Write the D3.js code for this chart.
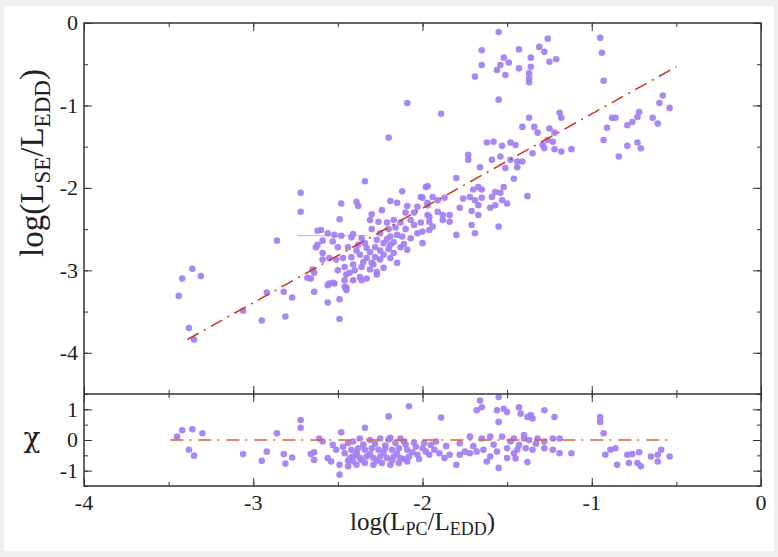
<html lang='en'>
<head>
<meta charset='UTF-8' />
<script src='https://d3js.org/d3.v7.min.js'></script>
<style>
  body { margin: 0; background: #f0f0f0; }
</style>
</head>
<body>
<div id='chart'></div>
<script>
// top panel: log(L_PC/L_EDD) vs log(L_SE/L_EDD)
const topX = [
  -3.44, -3.42, -3.36, -3.31, -3.38, -3.35, -2.86, -2.62, -2.64, -2.66, -2.82, -2.92, -2.77, -2.64,
  -3.06, -2.95, -2.81, -2.56, -2.55, -2.53, -2.49, -2.49, -2.46, -2.45, -2.72, -2.72, -2.20, -2.34,
  -2.48, -2.39, -2.38, -2.49, -1.97, -2.12, -2.30, -2.24, -2.19, -2.15, -2.09, -2.01, -1.94, -1.97,
  -2.60, -2.56, -2.52, -2.41, -2.36, -2.31, -2.26, -2.21, -2.17, -2.13, -2.07, -2.01, -1.96, -1.91,
  -2.59, -2.63, -2.53, -2.50, -2.44, -2.38, -2.33, -2.28, -2.23, -2.19, -2.15, -2.12, -2.07, -2.03,
  -2.00, -1.96, -2.19, -2.13, -2.09, -2.17, -2.23, -2.28, -2.33, -2.37, -2.42, -2.47, -2.51, -2.55,
  -2.59, -2.65, -2.68, -2.46, -2.41, -2.36, -2.30, -2.25, -2.19, -2.15, -2.43, -2.37, -2.31, -2.27,
  -2.23, -2.46, -2.41, -2.36, -2.56, -2.52, -2.45, -2.27, -2.59, -2.62,
  -1.55, -1.89, -1.19, -1.18, -1.37, -1.41, -1.34, -1.32, -1.25, -1.22, -1.26, -1.23, -1.29, -1.28,
  -1.22, -1.18, -1.12, -1.35, -1.62, -1.58, -1.53, -1.48, -1.45, -1.73, -1.73, -1.59, -1.54, -1.48,
  -1.44, -1.41, -1.51, -1.44, -1.66, -1.80, -1.46, -1.98, -1.67, -1.65, -1.70, -1.52, -1.57, -1.72,
  -1.76, -1.69, -1.65, -1.54, -1.59, -1.53, -1.57, -1.60, -1.67, -1.50, -1.38, -1.71, -1.67, -1.78,
  -1.88, -1.84, -1.88, -1.84, -1.97, -1.96, -2.00, -1.94, -1.71, -1.80, -1.55, -1.69, -1.91, -1.87,
  -2.00, -1.97, -2.09, -1.55,
  -1.65, -1.43, -1.26, -1.31, -1.28, -1.21, -1.25, -1.52, -1.49, -1.54, -1.56, -1.65, -1.43, -1.36,
  -1.36, -1.37, -1.37, -1.37, -1.51, -1.69, -0.95, -0.94, -0.93,
  -0.58, -0.60, -0.54, -0.72, -0.73, -0.76, -0.79, -0.64, -0.61, -0.88, -0.86, -0.91, -0.93, -0.79,
  -0.73, -0.71, -0.84,
  -2.30, -2.25, -2.20, -2.16, -2.10, -2.05, -2.27, -2.21, -2.17, -2.11, -2.34, -2.39, -2.31, -2.25,
  -2.20, -2.35, -2.40, -2.45, -2.50, -2.33, -2.29, -2.05, -2.03, -2.10, -2.42, -2.48
];
const topY = [
  -3.31, -3.10, -2.98, -3.07, -3.70, -3.84, -2.64, -2.69, -3.03, -3.10, -3.26, -3.27, -3.33, -3.26,
  -3.49, -3.61, -3.56, -3.39, -3.16, -3.15, -3.35, -3.59, -3.20, -3.24, -2.06, -2.29, -1.39, -1.92,
  -2.19, -2.17, -2.22, -2.38, -1.98, -2.04, -2.32, -2.27, -2.16, -2.18, -2.22, -2.11, -2.11, -2.18,
  -2.51, -2.55, -2.57, -2.56, -2.61, -2.39, -2.41, -2.42, -2.39, -2.42, -2.39, -2.42, -2.35, -2.29,
  -2.64, -2.72, -2.65, -2.72, -2.72, -2.69, -2.73, -2.72, -2.67, -2.59, -2.57, -2.59, -2.61, -2.55,
  -2.67, -2.51, -2.69, -2.72, -2.75, -2.79, -2.81, -2.84, -2.85, -2.81, -2.84, -2.85, -2.87, -2.85,
  -2.87, -2.99, -3.09, -2.96, -2.93, -2.96, -2.91, -2.87, -2.85, -2.91, -3.03, -3.08, -2.99, -3.02,
  -2.97, -3.12, -3.12, -3.12, -3.18, -3.16, -3.21, -3.05, -2.79, -2.52,
  -0.93, -1.10, -1.09, -1.15, -1.15, -1.26, -1.26, -1.33, -1.28, -1.33, -1.42, -1.44, -1.48, -1.52,
  -1.53, -1.56, -1.53, -1.58, -1.45, -1.44, -1.49, -1.45, -1.48, -1.60, -1.66, -1.66, -1.62, -1.66,
  -1.68, -1.68, -1.76, -1.75, -1.75, -1.88, -1.89, -1.99, -1.99, -2.02, -2.02, -1.99, -2.05, -2.11,
  -2.13, -2.15, -2.12, -2.06, -2.11, -2.15, -2.21, -2.24, -2.21, -2.19, -2.10, -2.28, -2.33, -2.24,
  -2.33, -2.33, -2.39, -2.41, -2.33, -2.41, -2.53, -2.47, -2.45, -2.57, -2.47, -2.55, -2.15, -2.12,
  -2.12, -2.21, -0.97, -0.11,
  -0.33, -0.32, -0.19, -0.29, -0.35, -0.44, -0.47, -0.42, -0.48, -0.51, -0.57, -0.51, -0.55, -0.42,
  -0.53, -0.61, -0.67, -0.72, -0.63, -0.65, -0.18, -0.36, -0.70,
  -0.88, -0.97, -1.03, -1.08, -1.14, -1.20, -1.24, -1.15, -1.22, -1.15, -1.15, -1.27, -1.42, -1.49,
  -1.45, -1.52, -1.62,
  -2.50, -2.55, -2.50, -2.48, -2.50, -2.45, -2.63, -2.62, -2.66, -2.68, -2.67, -2.76, -2.78, -2.76,
  -2.74, -2.90, -3.00, -3.05, -3.00, -3.10, -2.93, -2.30, -2.23, -2.30, -2.60, -2.58
];
// one point with a horizontal error bar
const errLo = [-2.74];
const errHi = [-2.33];
const errY = [-2.58];

// fitted line ends
const fitX = [-3.39, -0.5];
const fitY = [-3.84, -0.53];

// bottom panel: residuals chi
const resX = [
  -3.42, -3.36, -3.30, -3.45, -3.38, -3.35, -3.06, -2.92, -2.95, -2.86, -2.82, -2.81, -2.77, -2.72,
  -2.72, -2.66, -2.64, -2.64, -2.61, -2.59, -2.56, -2.54, -2.49, -2.48, -2.49, -2.46, -2.43, -2.41,
  -2.44, -2.39, -2.51, -2.53, -2.47,
  -2.34, -2.20, -2.08, -1.89, -1.68, -1.66, -1.65, -1.55, -1.56, -1.52, -1.50, -1.55, -1.43, -1.42,
  -1.38, -2.41, -2.37, -2.31, -2.25, -2.19, -2.13, -2.11, -2.42, -2.38, -2.34, -2.30, -2.26, -2.22,
  -2.18, -2.14, -2.09, -2.04, -2.00, -2.41, -2.37, -2.33, -2.29, -2.25, -2.21, -2.17, -2.13, -2.08,
  -2.39, -2.34, -2.29, -2.24, -2.19, -2.14, -2.09, -2.03, -1.98, -1.96, -1.93, -1.90, -1.87, -1.84,
  -1.95, -1.80, -1.78, -1.75, -1.72, -1.68, -1.64, -1.72, -1.65, -1.60, -1.78, -1.60, -1.55, -1.62,
  -1.56, -1.50, -1.46, -1.50, -1.48, -1.43, -1.40, -1.53,
  -1.36, -1.35, -1.28, -1.22, -1.46, -1.40, -1.37, -1.32, -1.28, -1.23, -1.19, -1.44, -1.39, -1.35,
  -1.28, -1.23, -1.19, -1.12, -1.38, -0.95, -0.95, -0.93, -0.92, -0.89, -0.86, -0.85, -0.79, -0.76,
  -0.72, -0.78, -0.73, -0.71, -0.65, -0.61, -0.59, -0.61, -0.54,
  -2.44, -2.35, -2.28, -2.22, -2.16, -2.10, -2.05, -2.39, -2.31, -2.23, -2.15, -2.06, -2.36, -2.27,
  -2.18, -2.11, -2.02, -1.99, -1.92, -1.86, -2.44, -2.20, -1.70, -1.58, -1.45, -1.33
];
const resChi = [
  0.32, 0.35, 0.22, 0.11, -0.32, -0.51, -0.46, -0.38, -0.68, 0.22, -0.46, -0.77, -0.57, 0.65,
  0.40, -0.46, -0.40, -0.65, 0.05, -0.05, -0.59, -0.70, -1.13, 0.25, -0.81, -0.43, -0.59, -0.70,
  -0.86, -0.48, -0.32, -0.16, -0.22,
  0.40, 0.77, 1.10, 0.73, 0.97, 1.29, 1.07, 1.40, 0.97, 1.02, 0.91, 0.59, 1.07, 0.86,
  0.75, -0.05, 0.05, 0.00, 0.05, 0.07, 0.05, -0.05, -0.32, -0.27, -0.32, -0.27, -0.32, -0.27,
  -0.32, -0.27, -0.32, -0.22, -0.27, -0.54, -0.59, -0.54, -0.59, -0.54, -0.59, -0.54, -0.59, -0.54,
  -0.81, -0.75, -0.81, -0.75, -0.81, -0.75, -0.70, -0.48, -0.38, -0.48, -0.32, -0.43, -0.59, -0.48,
  -0.16, -0.81, -0.48, -0.38, -0.43, -0.38, -0.32, 0.11, 0.05, 0.11, -0.11, -0.54, -0.91, -0.70,
  -0.38, -0.27, -0.43, -0.59, -0.05, -0.16, 0.05, 0.11,
  0.81, 0.70, 0.97, 0.75, 0.05, 0.16, 0.00, 0.05, -0.05, 0.05, 0.05, -0.32, -0.27, -0.32,
  -0.27, -0.32, -0.43, -0.43, -0.72, 0.75, 0.59, 0.22, -0.48, -0.32, -0.27, -0.81, -0.48, -0.46,
  -0.40, -0.75, -0.75, -0.86, -0.54, -0.48, -0.32, -0.70, -0.54,
  -0.10, -0.15, -0.12, -0.18, -0.10, -0.15, -0.08, -0.40, -0.45, -0.42, -0.44, -0.40, -0.65, -0.68,
  -0.66, -0.62, -0.62, -0.10, -0.05, -0.20, -0.68, 0.02, -0.20, -0.15, -0.60, -0.12
];
const resLineX = [-3.49, -0.52];

const xTicks = [-4, -3, -2, -1, 0];
const yTopTicks = [0, -1, -2, -3, -4];
const yBotTicks = [1, 0, -1];

const width = 778, height = 557;
const plot = { left: 84, right: 761, top: 23, mid: 394, bottom: 486 };
const serifFont = "Liberation Serif, DejaVu Serif, serif";

const pointColor = "#a37ef2";
const lineColor = "#cc3322";

const svg = d3.select("#chart").append("svg")
  .attr("width", width).attr("height", height)
  .style("display", "block");

// white card
svg.append("rect").attr("x", 4).attr("y", 6).attr("width", 770).attr("height", 545).attr("fill", "#fff");

const x = d3.scaleLinear().domain([-4, 0]).range([plot.left, plot.right]);
const yTop = d3.scaleLinear().domain([-4.5, 0]).range([plot.mid, plot.top]);
const yBot = d3.scaleLinear().domain([-1.5, 1.5]).range([plot.bottom, plot.mid]);

const halves = (a, b) => d3.range(a, b + 0.001, 0.5);

// ticks, inward on every side
function ticks(g, axisFn, scale, major, minor, pos, sign) {
  g.append("g").attr("transform", pos)
    .call(axisFn(scale).tickValues(major).tickSize(8 * sign).tickFormat(""))
    .call(a => a.select(".domain").remove())
    .selectAll("line").attr("stroke", "#333").attr("stroke-width", 1);
  g.append("g").attr("transform", pos)
    .call(axisFn(scale).tickValues(minor).tickSize(4 * sign).tickFormat(""))
    .call(a => a.select(".domain").remove())
    .selectAll("line").attr("stroke", "#333").attr("stroke-width", 1);
}

const gAx = svg.append("g");
// top panel
ticks(gAx, d3.axisBottom, x, xTicks, halves(-4, 0), `translate(0,${plot.top})`, 1);
ticks(gAx, d3.axisBottom, x, xTicks, halves(-4, 0), `translate(0,${plot.mid})`, -1);
ticks(gAx, d3.axisRight, yTop, yTopTicks, halves(-4.5, 0), `translate(${plot.left},0)`, 1);
ticks(gAx, d3.axisRight, yTop, yTopTicks, halves(-4.5, 0), `translate(${plot.right},0)`, -1);
// bottom panel
ticks(gAx, d3.axisBottom, x, xTicks, halves(-4, 0), `translate(0,${plot.mid})`, 1);
ticks(gAx, d3.axisBottom, x, xTicks, halves(-4, 0), `translate(0,${plot.bottom})`, -1);
ticks(gAx, d3.axisRight, yBot, yBotTicks, halves(-1.5, 1.5), `translate(${plot.left},0)`, 1);
ticks(gAx, d3.axisRight, yBot, yBotTicks, halves(-1.5, 1.5), `translate(${plot.right},0)`, -1);

// tick labels
function tickText(sel) {
  sel.attr("font-family", serifFont).attr("font-size", 22).attr("fill", "#222");
}
svg.append("g").selectAll("text").data(yTopTicks).join("text")
  .call(tickText)
  .attr("x", plot.left - 6).attr("y", d => yTop(d)).attr("dy", "0.34em")
  .attr("text-anchor", "end").text(d => d);
svg.append("g").selectAll("text").data(yBotTicks).join("text")
  .call(tickText)
  .attr("x", plot.left - 6).attr("y", d => yBot(d)).attr("dy", "0.34em")
  .attr("text-anchor", "end").text(d => d);
svg.append("g").selectAll("text").data(xTicks).join("text")
  .call(tickText)
  .attr("x", d => x(d)).attr("y", plot.bottom + 24)
  .attr("text-anchor", "middle").text(d => d);

// data
const gData = svg.append("g");
gData.selectAll("line.err").data(errY).join("line").attr("class", "err")
  .attr("x1", (d, i) => x(errLo[i])).attr("x2", (d, i) => x(errHi[i]))
  .attr("y1", d => yTop(d)).attr("y2", d => yTop(d))
  .attr("stroke", "#b8b4c8").attr("stroke-width", 1);

gData.selectAll("circle.top").data(topX).join("circle").attr("class", "top")
  .attr("cx", d => x(d)).attr("cy", (d, i) => yTop(topY[i])).attr("r", 3.3)
  .attr("fill", pointColor).attr("fill-opacity", 0.92);

gData.selectAll("circle.res").data(resX).join("circle").attr("class", "res")
  .attr("cx", d => x(d)).attr("cy", (d, i) => yBot(resChi[i])).attr("r", 3.3)
  .attr("fill", pointColor).attr("fill-opacity", 0.92);

gData.append("line")
  .attr("x1", x(fitX[0])).attr("y1", yTop(fitY[0]))
  .attr("x2", x(fitX[1])).attr("y2", yTop(fitY[1]))
  .attr("stroke", lineColor).attr("stroke-width", 1.5)
  .attr("stroke-dasharray", "13,6,2,6");

gData.append("line")
  .attr("x1", x(resLineX[0])).attr("y1", yBot(0))
  .attr("x2", x(resLineX[1])).attr("y2", yBot(0))
  .attr("stroke", "#e0603a").attr("stroke-width", 1.5)
  .attr("stroke-dasharray", "13,6,2,7");

// frames
svg.append("rect").attr("x", plot.left).attr("y", plot.top)
  .attr("width", plot.right - plot.left).attr("height", plot.bottom - plot.top)
  .attr("fill", "none").attr("stroke", "#333").attr("stroke-width", 1.5);
svg.append("line").attr("x1", plot.left).attr("x2", plot.right).attr("y1", plot.mid).attr("y2", plot.mid)
  .attr("stroke", "#333").attr("stroke-width", 1.5);

// axis labels
const yl = svg.append("text")
  .attr("transform", "translate(43,163) rotate(-90)")
  .attr("text-anchor", "middle")
  .attr("font-family", serifFont).attr("font-size", 33).attr("fill", "#222");
yl.append("tspan").text("log(L");
yl.append("tspan").attr("dy", 7).attr("font-size", 23).text("SE");
yl.append("tspan").attr("dy", -7).text("/L");
yl.append("tspan").attr("dy", 7).attr("font-size", 23).text("EDD");
yl.append("tspan").attr("dy", -7).text(")");

svg.append("text")
  .attr("x", 32).attr("y", yBot(0) - 1).attr("dy", "0.3em")
  .attr("text-anchor", "middle")
  .attr("font-family", "DejaVu Serif, serif").attr("font-size", 28).attr("fill", "#222")
  .text("χ");

const xl = svg.append("text")
  .attr("x", (plot.left + plot.right) / 2).attr("y", 530)
  .attr("text-anchor", "middle")
  .attr("font-family", serifFont).attr("font-size", 25).attr("fill", "#222");
xl.append("tspan").text("log(L");
xl.append("tspan").attr("dy", 5).attr("font-size", 18).text("PC");
xl.append("tspan").attr("dy", -5).text("/L");
xl.append("tspan").attr("dy", 5).attr("font-size", 18).text("EDD");
xl.append("tspan").attr("dy", -5).text(")");
</script>
</body>
</html>
